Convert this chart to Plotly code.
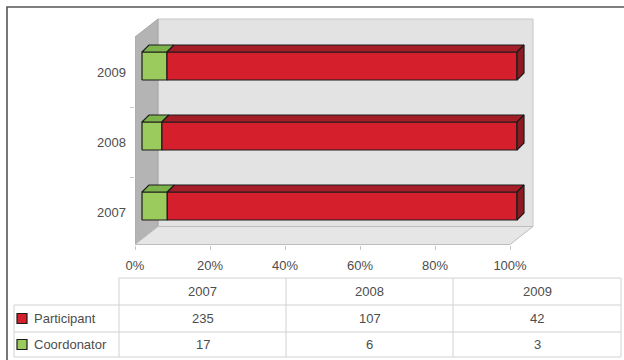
import plotly.graph_objects as go

# ---- data ----
years = ["2007", "2008", "2009"]
participant = [235, 107, 42]
coordonator = [17, 6, 3]
x_tick_values = [0, 20, 40, 60, 80, 100]

# ---- colours ----
RED_FRONT, RED_TOP, RED_SIDE = "#d61f2c", "#a51d27", "#8c1a21"
GREEN_FRONT, GREEN_TOP = "#9ccb5d", "#7cb34a"
EDGE = "#1c1c1c"
TEXT = "#4d4d4d"
FONT = "Liberation Sans, Arial, sans-serif"

# ---- canvas / plot-area geometry ----
W, H = 624, 360
L, R, T, B = 135, 89, 17, 115
PX_PER_PCT = 3.75
PX_PER_CAT = 70.0
X_MAX = (W - L - R) / PX_PER_PCT
Y_MIN = -33.0 / PX_PER_CAT
Y_MAX = Y_MIN + (H - T - B) / PX_PER_CAT

# 3D projection offsets (in data units)
WALL_DX, WALL_DY = 23 / PX_PER_PCT, 18 / PX_PER_CAT
BAR_FX, BAR_FY = 7 / PX_PER_PCT, 6 / PX_PER_CAT
BAR_DX, BAR_DY = 7 / PX_PER_PCT, 7 / PX_PER_CAT
BAR_H = 0.2


def paper_x(px):
    return (px - L) / (W - L - R)


def paper_y(py):
    return (H - B - py) / (H - T - B)


def poly(xs, ys, fill, line_color, width=1.0):
    return go.Scatter(
        x=list(xs) + [xs[0]], y=list(ys) + [ys[0]],
        mode="lines", fill="toself", fillcolor=fill,
        line=dict(color=line_color, width=width),
        hoverinfo="skip", showlegend=False,
    )


fig = go.Figure()

# ---- walls and floor ----
y0, ytop = Y_MIN + 0.5 / PX_PER_CAT, Y_MAX - 2 / PX_PER_CAT
fig.add_trace(poly([WALL_DX, 100 + WALL_DX, 100 + WALL_DX, WALL_DX],
                   [y0 + WALL_DY, y0 + WALL_DY, ytop, ytop],
                   "#e3e3e3", "#c6c6c6"))
fig.add_trace(poly([0, WALL_DX, WALL_DX, 0],
                   [y0, y0 + WALL_DY, ytop, ytop - WALL_DY],
                   "#b4b4b4", "#a8a8a8"))
fig.add_trace(poly([0, 100, 100 + WALL_DX, WALL_DX],
                   [y0, y0, y0 + WALL_DY, y0 + WALL_DY],
                   "#e6e6e6", "#bdbdbd"))

# ---- 3D stacked 100% bars ----
for i, (p, c) in enumerate(zip(participant, coordonator)):
    total = p + c
    segments = [
        (0.0, c / total * 100, GREEN_FRONT, GREEN_TOP),
        (c / total * 100, 100.0, RED_FRONT, RED_TOP),
    ]
    yb, yt = i + BAR_FY - BAR_H, i + BAR_FY + BAR_H
    for s, e, front, top in segments:
        xs, xe = s + BAR_FX, e + BAR_FX
        fig.add_trace(poly([xs, xe, xe, xs], [yb, yb, yt, yt], front, EDGE, 1.2))
        fig.add_trace(poly([xs, xe, xe + BAR_DX, xs + BAR_DX],
                           [yt, yt, yt + BAR_DY, yt + BAR_DY], top, EDGE, 1.2))
    xe = 100 + BAR_FX
    fig.add_trace(poly([xe, xe + BAR_DX, xe + BAR_DX, xe],
                       [yb, yb + BAR_DY, yt + BAR_DY, yt], RED_SIDE, EDGE, 1.2))

# ---- data table below the chart ----
shapes = []
annotations = []
line_col = "#d2d2d2"


def hline(x1, x2, y):
    shapes.append(dict(type="line", xref="paper", yref="paper",
                       x0=paper_x(x1), x1=paper_x(x2), y0=paper_y(y), y1=paper_y(y),
                       line=dict(color=line_col, width=1)))


def vline(x, y1, y2):
    shapes.append(dict(type="line", xref="paper", yref="paper",
                       x0=paper_x(x), x1=paper_x(x), y0=paper_y(y1), y1=paper_y(y2),
                       line=dict(color=line_col, width=1)))


col_edges = [119, 286, 453, 621]
row_edges = [278, 305, 332, 357]
hline(col_edges[0], col_edges[-1], row_edges[0])
for y in row_edges[1:]:
    hline(14, col_edges[-1], y)
vline(14, row_edges[1], row_edges[-1])
for x in col_edges:
    vline(x, row_edges[0], row_edges[-1])


def text(x, y, s, anchor="center"):
    annotations.append(dict(x=paper_x(x), y=paper_y(y), xref="paper", yref="paper",
                            text=s, showarrow=False, xanchor=anchor, yanchor="middle",
                            font=dict(family=FONT, size=13, color=TEXT)))


row_series = [("Participant", participant, RED_FRONT),
              ("Coordonator", coordonator, GREEN_FRONT)]
for k, yr in enumerate(years):
    cx = (col_edges[k] + col_edges[k + 1]) / 2
    text(cx, (row_edges[0] + row_edges[1]) / 2, yr)
for r, (name, vals, col) in enumerate(row_series):
    cy = (row_edges[r + 1] + row_edges[r + 2]) / 2
    shapes.append(dict(type="rect", xref="paper", yref="paper",
                       x0=paper_x(17), x1=paper_x(27), y0=paper_y(cy - 5), y1=paper_y(cy + 5),
                       fillcolor=col, line=dict(color=EDGE, width=1.2)))
    text(32, cy, name, anchor="left")
    for k, v in enumerate(vals):
        cx = (col_edges[k] + col_edges[k + 1]) / 2
        text(cx, cy, str(v))

# outer frame (left and top edges)
shapes.append(dict(type="path", xref="paper", yref="paper",
                   path=f"M {paper_x(7)},{paper_y(362)} L {paper_x(7)},{paper_y(7)} L {paper_x(626)},{paper_y(7)}",
                   line=dict(color="#555555", width=1.6)))

fig.update_layout(
    width=W, height=H,
    margin=dict(l=L, r=R, t=T, b=B, pad=0),
    paper_bgcolor="white", plot_bgcolor="white",
    showlegend=False,
    shapes=shapes, annotations=annotations,
    font=dict(family=FONT, size=13, color=TEXT),
    xaxis=dict(range=[0, X_MAX], tickvals=x_tick_values,
               ticktext=[f"{v}%" for v in x_tick_values],
               showgrid=False, zeroline=False, showline=False,
               ticks="outside", ticklen=4, tickcolor="#c8c8c8",
               ticklabelstandoff=4, fixedrange=True),
    yaxis=dict(range=[Y_MIN, Y_MAX], tickvals=[0, 1, 2], ticktext=years,
               showgrid=False, zeroline=False, showline=False,
               ticks="", ticklabelstandoff=8, fixedrange=True,
               minor=dict(tickvals=[-0.5, 0.5, 1.5], ticks="outside",
                          ticklen=4, tickcolor="#c8c8c8")),
)

fig.write_html("out.html")
